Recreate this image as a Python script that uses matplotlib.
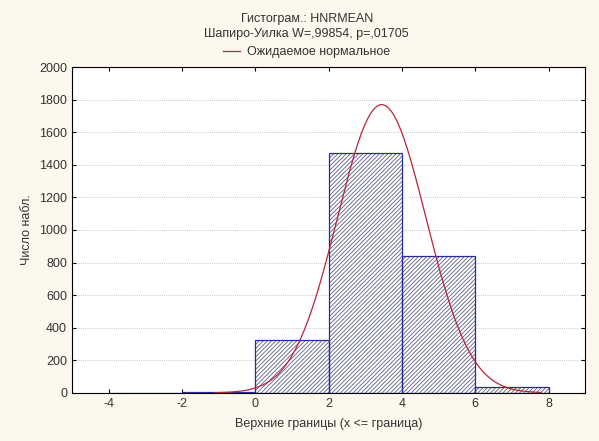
import matplotlib.pyplot as plt
import numpy as np

plt.rcParams['font.family'] = ['Liberation Sans', 'DejaVu Sans']
plt.rcParams['hatch.linewidth'] = 0.6
plt.rcParams['axes.unicode_minus'] = False

# границы интервалов и частоты
edges = [-4, -2, 0, 2, 4, 6, 8]
counts = [0, 8, 322, 1472, 842, 39]
mean, sd = 3.45, 1.21
n_total = sum(counts)

fig = plt.figure(figsize=(5.99, 4.41), dpi=100, facecolor='#fcf8ee')
ax = fig.add_axes([0.120, 0.109, 0.857, 0.739])
ax.set_facecolor('white')

left = np.array(edges[:-1])
width = np.diff(edges)
# штриховка и контур рисуются отдельно, чтобы штрих был светлее рамки
ax.bar(left, counts, width=width, align='edge', color='white',
       edgecolor='#5c5c8a', hatch='////////', linewidth=0, zorder=2)
ax.bar(left, counts, width=width, align='edge', fill=False,
       edgecolor='#2a2aa0', linewidth=0.9, zorder=3)

x = np.linspace(-1.1, 7.8, 300)
y = n_total * 2 / (sd * np.sqrt(2 * np.pi)) * np.exp(-(x - mean) ** 2 / (2 * sd ** 2))
line, = ax.plot(x, y, color='#b8243c', linewidth=0.9, zorder=4)

ax.set_xlim(-5, 9)
ax.set_ylim(0, 2000)
ax.set_xticks(range(-4, 9, 2))
ax.set_yticks(range(0, 2001, 200))
ax.yaxis.grid(True, linestyle=(0, (1, 1.5)), color='#b4b4b4', linewidth=0.6)
ax.set_axisbelow(True)
ax.tick_params(labelsize=9, labelcolor='#333333', top=True, right=True,
               direction='in', length=3)
for s in ax.spines.values():
    s.set_color('black')
    s.set_linewidth(0.8)

ax.set_xlabel('Верхние границы (x <= граница)', fontsize=9, labelpad=6, color='#333333')
ax.set_ylabel('Число набл.', fontsize=9, labelpad=4, color='#333333')

fig.text(0.512, 0.957, 'Гистограм.: HNRMEAN', ha='center', va='center', fontsize=9, color='#333333')
fig.text(0.512, 0.923, 'Шапиро-Уилка W=,99854, p=,01705', ha='center', va='center', fontsize=9, color='#333333')
leg = fig.legend([line], ['Ожидаемое нормальное'], loc='center', bbox_to_anchor=(0.512, 0.882),
                 frameon=False, fontsize=9, handlelength=1.4, handletextpad=0.55,
                 borderpad=0, borderaxespad=0)
for t in leg.get_texts():
    t.set_color('#333333')

fig.savefig('out.png', dpi=100, facecolor=fig.get_facecolor())
